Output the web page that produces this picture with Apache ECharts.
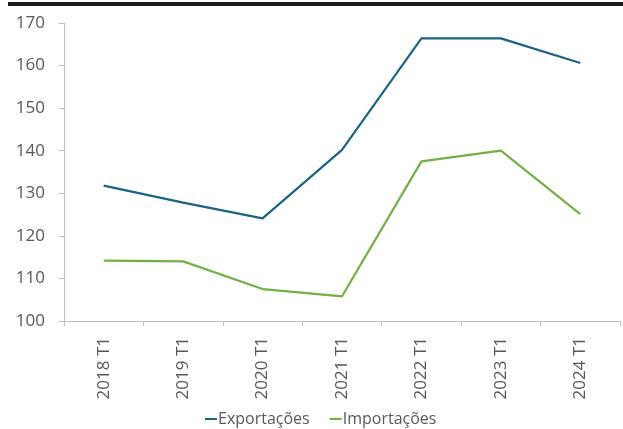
<!DOCTYPE html>
<html>
<head>
<meta charset="utf-8">
<script src="https://cdn.jsdelivr.net/npm/echarts@6/dist/echarts.min.js"></script>
<style>
  html, body { margin: 0; padding: 0; background: #fff; }
  #topbar { position: absolute; left: 8px; right: 0; top: 2px; height: 4px; background: #1a1a1a; }
  #chart { width: 623px; height: 429px; }
</style>
</head>
<body>
<div id="topbar"></div>
<div id="chart"></div>
<script>
// dados
const categories = ['2018 T1', '2019 T1', '2020 T1', '2021 T1', '2022 T1', '2023 T1', '2024 T1']
const exportacoes = [131.8, 127.8, 124.1, 140.2, 166.4, 166.4, 160.6]
const importacoes = [114.2, 114.0, 107.5, 105.8, 137.5, 140.0, 125.1]

const chart = echarts.init(document.getElementById('chart'))

const font = '"Open Sans", "Noto Sans", sans-serif'

chart.setOption({
  animation: false,
  grid: { left: 64, right: 3, top: 23, bottom: 108 },
  legend: {
    top: 411,
    left: 205,
    padding: 0,
    itemWidth: 12,
    itemHeight: 2,
    itemGap: 20,
    icon: 'rect',
    textStyle: { fontFamily: font, fontSize: 16, color: '#595959', padding: [0, 0, 0, -4] },
    data: ['Exportações', 'Importações']
  },
  xAxis: {
    type: 'category',
    data: categories,
    boundaryGap: true,
    axisLine: { lineStyle: { color: '#bfbfbf', width: 1 } },
    axisTick: { show: true, length: 5, lineStyle: { color: '#bfbfbf' } },
    axisLabel: { rotate: 90, margin: 16, fontFamily: font, fontSize: 17, color: '#595959' }
  },
  yAxis: {
    type: 'value',
    min: 100,
    max: 170,
    interval: 10,
    splitLine: { show: false },
    axisLine: { show: true, lineStyle: { color: '#bfbfbf', width: 1 } },
    axisTick: { show: true, length: 5, lineStyle: { color: '#bfbfbf' } },
    axisLabel: { margin: 19, fontFamily: font, fontSize: 17, color: '#595959' }
  },
  series: [
    {
      name: 'Exportações',
      type: 'line',
      data: exportacoes,
      symbol: 'none',
      lineStyle: { color: '#1b6285', width: 2.2 },
      itemStyle: { color: '#1b6285' }
    },
    {
      name: 'Importações',
      type: 'line',
      data: importacoes,
      symbol: 'none',
      lineStyle: { color: '#72b043', width: 2.2 },
      itemStyle: { color: '#72b043' }
    }
  ]
})
</script>
</body>
</html>
